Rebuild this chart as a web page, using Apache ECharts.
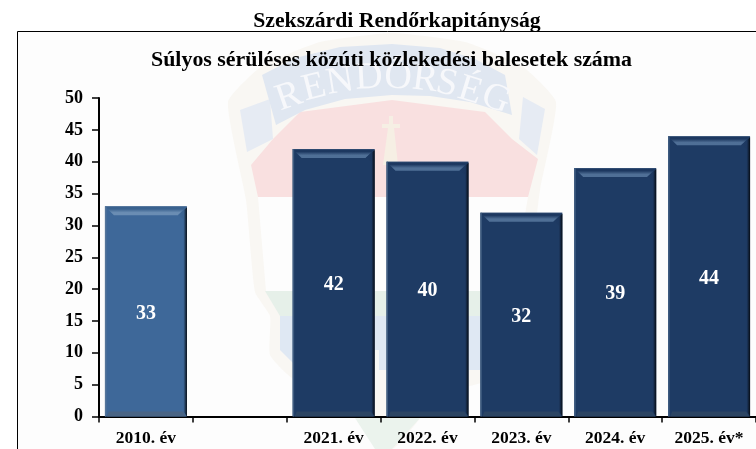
<!DOCTYPE html>
<html>
<head>
<meta charset="utf-8">
<title>Szekszárdi Rendőrkapitányság</title>
<script src="https://cdn.jsdelivr.net/npm/echarts@6/dist/echarts.min.js"></script>
<style>
html, body { margin: 0; padding: 0; background: #fff; overflow: hidden; }
#container { width: 756px; height: 449px; }
</style>
</head>
<body>
<div id="container"></div>
<script>
var pageTitle = 'Szekszárdi Rendőrkapitányság';
var chartTitle = 'Súlyos sérüléses közúti közlekedési balesetek száma';
var categories = ['2010. év', '', '2021. év', '2022. év', '2023. év', '2024. év', '2025. év*'];
var values = [33, null, 42, 40, 32, 39, 44];

var serif = '"Liberation Serif", "Times New Roman", serif';
var lightBar = { body: '#3e6899', top: '#6a8db3', edge: '#3a628f', low: '#4a6585', side: '#55759a' };
var darkBar = { body: '#1e3b64', top: '#4f6f96', edge: '#1d3860', low: '#2c4563', side: '#3f5c80' };

function barColors(i) {
    return i === 0 ? lightBar : darkBar;
}

// bevel drawn over each bar, sized from the axes
function renderBevel(params, api) {
    var i = api.value(0);
    var v = api.value(1);
    if (v == null || isNaN(v)) {
        return;
    }
    var topPt = api.coord([i, v]);
    var basePt = api.coord([i, 0]);
    var w = 82;
    var l = topPt[0] - w / 2;
    var r = topPt[0] + w / 2;
    var t = topPt[1];
    var b = basePt[1];
    var c = barColors(i);
    return {
        type: 'group',
        silent: true,
        children: [
            { type: 'polygon', shape: { points: [[l, t], [r, t], [r - 9, t + 9], [l + 9, t + 9]] },
              style: { fill: { type: 'linear', x: 0, y: 0, x2: 0, y2: 1, colorStops: [
                  { offset: 0, color: c.side }, { offset: 0.12, color: c.edge }, { offset: 0.3, color: c.edge },
                  { offset: 0.7, color: c.top }, { offset: 1, color: c.top }] } } },
            { type: 'rect', shape: { x: l, y: t, width: 1.5, height: b - t }, style: { fill: c.side } },
            { type: 'polygon', shape: { points: [[r, t + 1], [r - 9, t + 9], [r - 3.5, t + 13], [r - 3.5, b - 5], [r, b]] },
              style: { fill: { type: 'linear', x: 0, y: 0, x2: 1, y2: 0, colorStops: [
                  { offset: 0, color: c.body }, { offset: 0.65, color: c.edge }, { offset: 1, color: '#060c14' }] } } },
            { type: 'polygon', shape: { points: [[l + 4, b - 5], [r - 4, b - 5], [r - 1, b], [l + 2, b]] },
              style: { fill: c.low } }
        ]
    };
}

// pale police badge behind the plot
var letters = [
    ['R', 289, 97, 19], ['E', 314, 88, 14], ['N', 340, 82, 9], ['D', 369, 78, 3], ['Ő', 398, 78, -2],
    ['R', 425, 80, -7], ['S', 447, 84, -12], ['É', 470, 91, -17], ['G', 496, 99, -21]
];
var badge = [
    { type: 'rect', shape: { x: 17.5, y: 31.5, width: 800, height: 500 }, style: { fill: '#fdfdfd', stroke: '#000', lineWidth: 1 } },
    // beige outline
    { type: 'polygon', shape: { smooth: 0.15, points: [[228, 102], [262, 66], [320, 42], [392, 33], [465, 42], [522, 66], [556, 102], [540, 190], [530, 270], [522, 310], [506, 320], [506, 360], [490, 380], [440, 395], [392, 449], [345, 400], [292, 378], [270, 355], [270, 316], [255, 292], [246, 200]] },
      style: { fill: '#f9f7f3' } },
    { type: 'polygon', shape: { points: [[258, 197], [528, 197], [512, 291], [266, 291]] }, style: { fill: '#fdfdfd' } },
    // red field
    { type: 'polygon', shape: { points: [[251, 165], [273, 139], [300, 112], [392, 100], [485, 112], [512, 139], [538, 159], [528, 197], [258, 197]] }, style: { fill: '#f9e0e0' } },
    // banner
    { type: 'polygon', shape: { points: [[240, 110], [270, 99], [273, 139], [247, 152]] }, style: { fill: '#e6ebf3' } },
    { type: 'polygon', shape: { points: [[545, 109], [523, 97], [519, 139], [537, 155]] }, style: { fill: '#e6ebf3' } },
    { type: 'polygon', shape: { points: [[262, 75], [295, 58], [340, 47], [392, 44], [440, 48], [475, 59], [505, 75], [512, 115], [470, 102], [430, 96], [392, 95], [345, 99], [305, 110], [276, 125]] }, style: { fill: '#e0e7f1' } },
    // cross
    { type: 'polygon', shape: { points: [[389, 116], [393, 116], [393, 124], [400, 124], [400, 128], [394, 128], [398, 165], [383, 165], [388, 128], [382, 128], [382, 124], [389, 124]] }, style: { fill: '#f6efe4' } },
    // green and blue at the foot
    { type: 'polygon', shape: { points: [[265, 291], [500, 291], [492, 316], [280, 316]] }, style: { fill: '#e6f0e9' } },
    { type: 'polygon', shape: { points: [[280, 316], [492, 316], [492, 370], [300, 370], [280, 350]] }, style: { fill: '#dfe8f3' } },
    { type: 'rect', shape: { x: 373, y: 350, width: 6, height: 40 }, style: { fill: '#f8f8f5' } },
    { type: 'polygon', shape: { points: [[355, 418], [420, 418], [392, 449], [375, 449]] }, style: { fill: '#ebf3ed' } }
];
letters.forEach(function (d) {
    badge.push({
        type: 'text',
        x: d[1],
        y: d[2],
        rotation: d[3] * Math.PI / 180,
        style: { text: d[0], fill: '#f7f8fb', font: '38px ' + serif, textAlign: 'center', textVerticalAlign: 'middle' }
    });
});

var myChart = echarts.init(document.getElementById('container'), null, { renderer: 'canvas' });

var option = {
    animation: false,
    backgroundColor: '#fff',
    graphic: { elements: [{ type: 'group', silent: true, z: 0, children: badge }] },
    title: [
        { text: pageTitle, left: 392, top: 5, textAlign: 'center',
          textStyle: { fontFamily: serif, fontWeight: 'bold', fontSize: 21.7, color: '#000' } },
        { text: chartTitle, left: 386.5, top: 44, textAlign: 'center',
          textStyle: { fontFamily: serif, fontWeight: 'bold', fontSize: 21.9, color: '#000' } }
    ],
    grid: { left: 99, top: 98, width: 659.4, height: 318.5 },
    xAxis: {
        type: 'category',
        data: categories,
        axisLine: { lineStyle: { color: '#000', width: 2 } },
        axisTick: { show: true, length: 6, interval: 0, lineStyle: { color: '#000', width: 1.5 } },
        axisLabel: { interval: 0, margin: 13, color: '#000', fontFamily: serif, fontWeight: 'bold', fontSize: 17.5 }
    },
    yAxis: {
        type: 'value',
        min: 0,
        max: 50,
        interval: 5,
        splitLine: { show: false },
        axisLine: { show: true, lineStyle: { color: '#000', width: 2 } },
        axisTick: { show: true, length: 7, lineStyle: { color: '#000', width: 1.5 } },
        axisLabel: { margin: 16, color: '#000', fontFamily: serif, fontWeight: 'bold', fontSize: 18 }
    },
    series: [{
        type: 'bar',
        barWidth: 82,
        data: values.map(function (v, i) {
            return { value: v, itemStyle: { color: barColors(i).body } };
        }),
        label: {
            show: true,
            position: 'inside',
            offset: [0, 2],
            color: '#fff',
            fontFamily: serif,
            fontWeight: 'bold',
            fontSize: 20
        }
    }, {
        type: 'custom',
        silent: true,
        renderItem: renderBevel,
        encode: { x: 0, y: 1 },
        data: values.map(function (v, i) {
            return [i, v];
        }),
        z: 3
    }]
};
myChart.setOption(option);
</script>
</body>
</html>
